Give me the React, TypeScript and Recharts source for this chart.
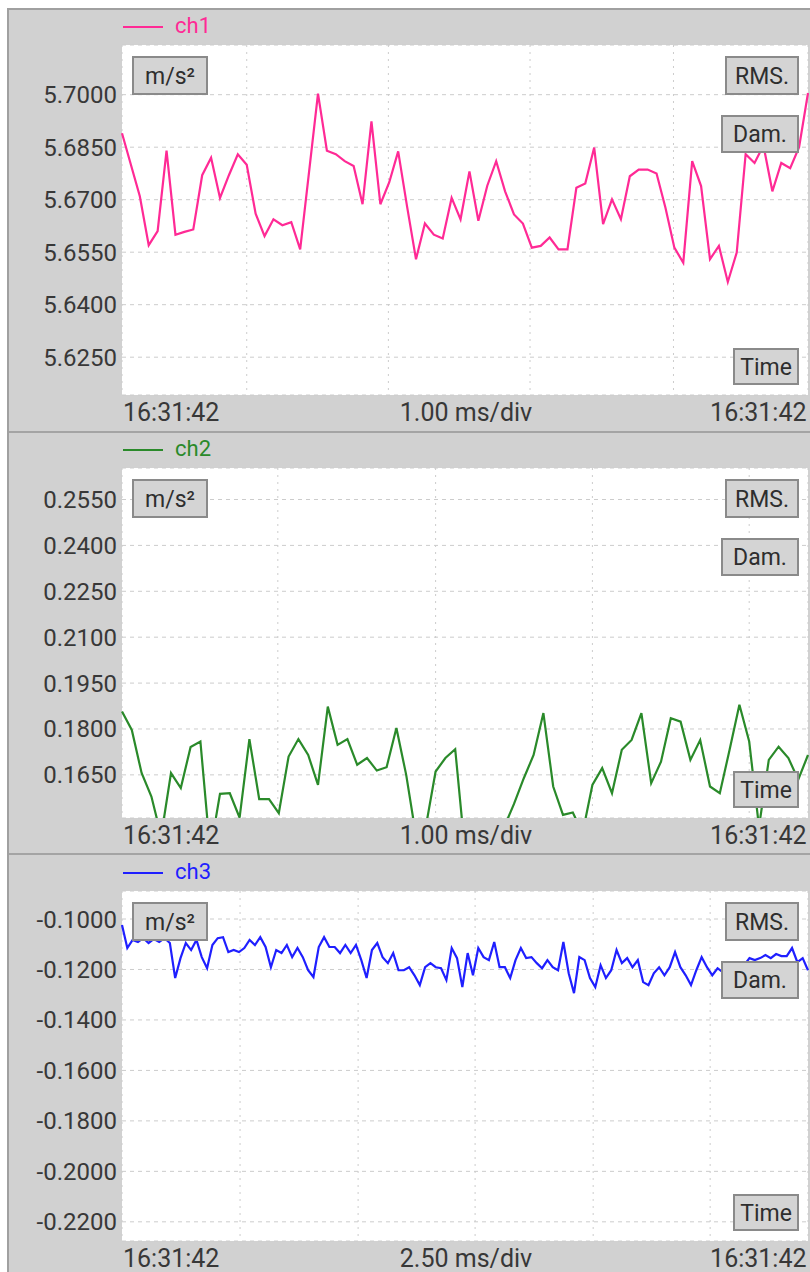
import React from 'react';
import { LineChart, Line, XAxis, YAxis, CartesianGrid } from 'recharts';

// ch1 samples (m/s²)
const ch1Values = [
  5.689, 5.680, 5.671, 5.657, 5.661, 5.684, 5.660, 5.6608, 5.6615, 5.677,
  5.682, 5.6705, 5.677, 5.683, 5.680, 5.666, 5.6596, 5.6644, 5.6627, 5.6636,
  5.6558, 5.678, 5.7003, 5.684, 5.683, 5.681, 5.6796, 5.6687, 5.6924, 5.6687,
  5.675, 5.6838, 5.668, 5.653, 5.6632, 5.660, 5.6589, 5.6705, 5.6644, 5.6781,
  5.664, 5.674, 5.681, 5.6724, 5.6658, 5.6632, 5.6563, 5.6568, 5.6592, 5.6558,
  5.6558, 5.6734, 5.6746, 5.6849, 5.663, 5.6701, 5.6644, 5.6767, 5.6786, 5.6786,
  5.6775, 5.6677, 5.6563, 5.652, 5.681, 5.6739, 5.653, 5.6568, 5.6465, 5.6549,
  5.683, 5.6805, 5.6855, 5.6724, 5.6805, 5.679, 5.685, 5.7005,
];

// ch2 samples (m/s²), several dip below the visible range
const ch2Values = [
  0.1857, 0.1797, 0.1656, 0.1579, 0.145, 0.1656, 0.1607, 0.1741, 0.1759, 0.140,
  0.1588, 0.1590, 0.151, 0.1767, 0.1571, 0.1571, 0.1525, 0.1710, 0.1767, 0.1715,
  0.1617, 0.1873, 0.1748, 0.1767, 0.1683, 0.1705, 0.1664, 0.1675, 0.1803, 0.1650,
  0.145, 0.148, 0.1661, 0.1705, 0.1734, 0.140, 0.142, 0.138, 0.145, 0.148,
  0.1555, 0.1639, 0.1715, 0.1852, 0.1612, 0.1519, 0.1527, 0.146, 0.1617, 0.1672,
  0.1590, 0.1732, 0.1764, 0.1852, 0.1623, 0.1693, 0.1835, 0.1824, 0.1699, 0.1764,
  0.1612, 0.1590, 0.1732, 0.1879, 0.1759, 0.148, 0.1699, 0.1742, 0.1705, 0.1634,
  0.1715,
];

// ch3 samples (m/s²)
const ch3Values = [
  -0.1024, -0.1115, -0.1083, -0.1091, -0.1076, -0.1095, -0.1079, -0.1091, -0.1076, -0.1095,
  -0.1234, -0.1155, -0.1095, -0.1123, -0.1083, -0.1151, -0.1195, -0.1103, -0.1076, -0.1072,
  -0.1131, -0.1123, -0.1131, -0.1115, -0.1083, -0.1103, -0.1072, -0.1111, -0.1191, -0.1123,
  -0.1135, -0.1103, -0.1151, -0.1115, -0.1151, -0.1203, -0.1230, -0.1111, -0.1072, -0.1111,
  -0.1111, -0.1135, -0.1103, -0.1135, -0.1103, -0.1163, -0.1234, -0.1123, -0.1095, -0.1151,
  -0.1175, -0.1135, -0.1203, -0.1203, -0.1191, -0.1223, -0.1262, -0.1191, -0.1175, -0.1191,
  -0.1195, -0.1242, -0.1115, -0.1155, -0.1270, -0.1135, -0.1223, -0.1115, -0.1151, -0.1163,
  -0.1091, -0.1191, -0.1191, -0.1234, -0.1163, -0.1115, -0.1155, -0.1151, -0.1175, -0.1195,
  -0.1163, -0.1191, -0.1203, -0.1091, -0.1215, -0.1294, -0.1151, -0.1163, -0.1234, -0.1270,
  -0.1183, -0.1234, -0.1203, -0.1123, -0.1175, -0.1155, -0.1191, -0.1163, -0.1250, -0.1262,
  -0.1215, -0.1191, -0.1223, -0.1191, -0.1131, -0.1191, -0.1223, -0.1262, -0.1203, -0.1151,
  -0.1191, -0.1223, -0.1195, -0.1211, -0.1223, -0.1254, -0.1223, -0.1183, -0.1155, -0.1163,
  -0.1155, -0.1143, -0.1155, -0.1139, -0.1147, -0.1147, -0.1115, -0.1171, -0.1155, -0.1203,
];

const ch1Ticks = [5.625, 5.64, 5.655, 5.67, 5.685, 5.7];
const ch2Ticks = [0.165, 0.18, 0.195, 0.21, 0.225, 0.24, 0.255];
const ch3Ticks = [-0.22, -0.2, -0.18, -0.16, -0.14, -0.12, -0.1];

const ch1Domain = [5.6142, 5.7142];
const ch2Domain = [0.1509, 0.2653];
const ch3Domain = [-0.2276, -0.0889];

// vertical division lines, in sample index units
const ch1Divs = [14, 29.9, 45.8, 61.9];
const ch2Divs = [15.9, 32, 48, 64];
const ch3Divs = [22.2, 44.4, 66.4, 88.6, 110.6];

const timeStamp = '16:31:42';
const FONT = 'Roboto, "Noto Sans", sans-serif';
const TEXT = '#383838';

function LabelBox({ x, y, w, h, label }: { x: number; y: number; w: number; h: number; label: string }) {
  return (
    <g>
      <rect x={x + 1} y={y + 1} width={w - 2} height={h - 2} fill="#d4d4d4" stroke="#8a8a8a" strokeWidth={2} />
      <text x={x + w / 2} y={y + h / 2 + 8} textAnchor="middle" fontSize={23} fontFamily={FONT} fill="#2e2e2e">
        {label}
      </text>
    </g>
  );
}

interface PanelProps {
  top: number;
  name: string;
  color: string;
  values: number[];
  domain: number[];
  ticks: number[];
  divs: number[];
  scale: string;
}

function Panel({ top, name, color, values, domain, ticks, divs, scale }: PanelProps) {
  const rows = values.map((v, i) => ({ i, v }));
  return (
    <div style={{ position: 'absolute', left: 8, top, width: 802, height: 423 }}>
      <LineChart width={802} height={423} data={rows} margin={{ top: 36, right: 2, bottom: 37, left: 0 }}>
        <CartesianGrid fill="#ffffff" stroke="#cccccc" strokeDasharray="4 4" vertical={false} />
        <CartesianGrid stroke="#cccccc" strokeDasharray="2 5" horizontal={false} />
        <XAxis dataKey="i" type="number" domain={[0, values.length - 1]} ticks={divs} hide />
        <YAxis
          type="number"
          domain={domain}
          ticks={ticks}
          interval={0}
          allowDataOverflow
          width={114}
          axisLine={false}
          tickLine={false}
          tickSize={0}
          tickMargin={5}
          tickFormatter={(v: number) => v.toFixed(4)}
          tick={{ fill: TEXT, fontSize: 24, fontFamily: FONT }}
        />
        <Line type="linear" dataKey="v" stroke={color} strokeWidth={2.2} dot={false} isAnimationActive={false} />
      </LineChart>
      <svg width={802} height={423} style={{ position: 'absolute', left: 0, top: 0, pointerEvents: 'none' }}>
        <line x1={115} y1={18} x2={155} y2={18} stroke={color} strokeWidth={2} />
        <text x={167} y={24} fontSize={22} fontFamily={FONT} fill={color}>{name}</text>
        <LabelBox x={124} y={47} w={76} h={39} label="m/s²" />
        <LabelBox x={717} y={47} w={74} h={39} label="RMS." />
        <LabelBox x={713} y={106} w={78} h={38} label="Dam." />
        <LabelBox x={725} y={339} w={66} h={37} label="Time" />
        <text x={115} y={412} fontSize={25} fontFamily={FONT} fill={TEXT}>{timeStamp}</text>
        <text x={458} y={412} fontSize={25} fontFamily={FONT} fill={TEXT} textAnchor="middle">{scale}</text>
        <text x={798.5} y={412} fontSize={25} fontFamily={FONT} fill={TEXT} textAnchor="end">{timeStamp}</text>
      </svg>
    </div>
  );
}

export default function App() {
  return (
    <div style={{ position: 'absolute', left: 0, top: 0, width: 810, height: 1272, background: '#ffffff', overflow: 'hidden' }}>
      <div
        style={{
          position: 'absolute', left: 7, top: 8, width: 803, height: 1264, boxSizing: 'border-box',
          background: '#d1d1d1', borderLeft: '2px solid #a0a0a0', borderTop: '2px solid #a0a0a0',
        }}
      />
      <div style={{ position: 'absolute', left: 9, top: 431, width: 801, height: 2, background: '#a4a4a4' }} />
      <div style={{ position: 'absolute', left: 9, top: 853, width: 801, height: 2, background: '#a4a4a4' }} />
      <Panel top={9} name="ch1" color="#ff2a95" values={ch1Values} domain={ch1Domain} ticks={ch1Ticks} divs={ch1Divs} scale="1.00 ms/div" />
      <Panel top={432} name="ch2" color="#2a8a2a" values={ch2Values} domain={ch2Domain} ticks={ch2Ticks} divs={ch2Divs} scale="1.00 ms/div" />
      <Panel top={855} name="ch3" color="#1f1fff" values={ch3Values} domain={ch3Domain} ticks={ch3Ticks} divs={ch3Divs} scale="2.50 ms/div" />
    </div>
  );
}
